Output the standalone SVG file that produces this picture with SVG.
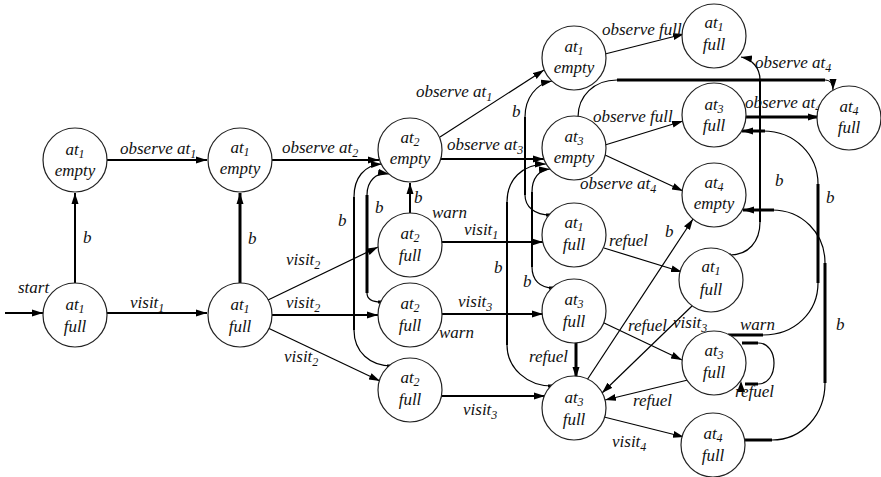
<svg xmlns="http://www.w3.org/2000/svg" width="881" height="477" viewBox="0 0 881 477">
<defs>
<marker id="ah" markerUnits="userSpaceOnUse" markerWidth="12" markerHeight="9" refX="11" refY="4" orient="auto"><path d="M0,0.5 L11,4 L0,7.5 z" fill="#000"/></marker>
<style>
text{font-family:"Liberation Serif",serif;font-style:italic;font-size:17px;fill:#111}
.sub{font-size:12px}
.n text{text-anchor:middle}
circle{fill:#fff;stroke:#222;stroke-width:1.2}
.c path{fill:none;stroke:#000}
.w1{stroke-width:1.2}
.w2{stroke-width:2}
.w3{stroke-width:3}
.a{marker-end:url(#ah)}
</style>
</defs>
<rect width="881" height="477" fill="#fff"/>
<g id="connectors" class="c">
<path class="w2 a" d="M5,313 H43"/>
<path class="w2 a" d="M75,283 V193"/>
<path class="w2 a" d="M107,160 H207"/>
<path class="w2 a" d="M107,313 H207"/>
<path class="w3 a" d="M240,283 V193"/>
<path class="w2 a" d="M272,160 H379"/>
<path class="w1 a" d="M268,300 L378,247"/>
<path class="w2 a" d="M272,315 H378"/>
<path class="w1 a" d="M268,328 L380,381"/>
<path class="w1 a" d="M440,137 L544,70"/>
<path class="w2 a" d="M441,159 H544"/>
<path class="w2 a" d="M410,213 V183"/>
<path class="w2 a" d="M442,242 H543"/>
<path class="w2 a" d="M442,314 H543"/>
<path class="w2 a" d="M442,396 H545"/>
<path class="w3" d="M387,366 H393"/>
<path class="w1" d="M392,366 C370,366 354,352 354,330"/>
<path class="w2" d="M354,330 V197"/>
<path class="w1 a" d="M354,197 C354,178 364,165 382,164"/>
<path class="w3" d="M378,302 H385"/>
<path class="w1" d="M381,302 C372,302 367,299 367,293"/>
<path class="w3" d="M367,293 V195"/>
<path class="w1 a" d="M367,195 C367,181 376,172 389,174"/>
<path class="w1" d="M578,117 C578,96 594,80 617,80"/>
<path class="w3" d="M617,80 H825"/>
<path class="w1 a" d="M825,80 C830,80 833,84 833,90"/>
<path class="w1 a" d="M605,145 L683,121"/>
<path class="w1 a" d="M605,155 L683,191"/>
<path class="w1 a" d="M605,54 L684,34"/>
<path class="w3" d="M546,215 H552"/>
<path class="w1" d="M550,215 C535,215 525,207 525,195"/>
<path class="w2" d="M525,195 V117"/>
<path class="w1 a" d="M525,117 C525,98 536,84 552,81"/>
<path class="w3" d="M549,288 H555"/>
<path class="w1" d="M553,288 C540,288 532,280 532,267"/>
<path class="w2" d="M532,267 V192"/>
<path class="w1 a" d="M532,192 C532,178 539,170 550,169"/>
<path class="w3" d="M548,386 H554"/>
<path class="w1" d="M552,386 C527,386 507,368 507,345"/>
<path class="w2" d="M507,345 V202"/>
<path class="w1 a" d="M507,202 C507,180 522,164 546,164"/>
<path class="w1 a" d="M604,248 L682,272"/>
<path class="w1 a" d="M602,322 L682,360"/>
<path class="w3 a" d="M576,343 V378"/>
<path class="w1 a" d="M587,380 L693,219"/>
<path class="w1 a" d="M692,306 L602,393"/>
<path class="w1 a" d="M692,379 L605,400"/>
<path class="w1 a" d="M604,417 L684,437"/>
<path class="w3 a" d="M743,117 H819"/>
<path class="w3" d="M722,255 H731"/>
<path class="w1" d="M730,255 C748,255 760,242 760,222"/>
<path class="w2" d="M760,222 V80"/>
<path class="w1 a" d="M760,80 C760,68 752,59 741,57"/>
<path class="w3" d="M728,335 H763"/>
<path class="w1" d="M763,335 C795,335 818,312 818,283"/>
<path class="w3" d="M818,283 V184"/>
<path class="w1" d="M818,184 C818,155 795,131 763,131"/>
<path class="w3 a" d="M765,131 H742"/>
<path class="w3" d="M745,440 H772"/>
<path class="w1" d="M772,440 C802,440 825,415 825,383"/>
<path class="w3" d="M825,383 V263"/>
<path class="w1" d="M825,263 C825,233 802,210 772,210"/>
<path class="w3 a" d="M774,210 H743"/>
<path class="w3" d="M742,343 H758"/>
<path class="w1" d="M758,343 C768,343 774,352 774,363 C774,375 768,384 758,384"/>
<path class="w3" d="M758,384 H745"/>
<polygon points="741,381 737,392 745,392" fill="#000"/>
</g>
<g id="labels">
<text x="18" y="293">start</text>
<text x="83" y="243">b</text>
<text x="120" y="154">observe at<tspan class="sub" dy="4">1</tspan></text>
<text x="130" y="308">visit<tspan class="sub" dy="4">1</tspan></text>
<text x="248" y="244">b</text>
<text x="282" y="153">observe at<tspan class="sub" dy="4">2</tspan></text>
<text x="286" y="265">visit<tspan class="sub" dy="4">2</tspan></text>
<text x="286" y="308">visit<tspan class="sub" dy="4">2</tspan></text>
<text x="284" y="362">visit<tspan class="sub" dy="4">2</tspan></text>
<text x="338" y="226">b</text>
<text x="375" y="213">b</text>
<text x="414" y="203">b</text>
<text x="432" y="218">warn</text>
<text x="416" y="97">observe at<tspan class="sub" dy="4">1</tspan></text>
<text x="447" y="150">observe at<tspan class="sub" dy="4">3</tspan></text>
<text x="464" y="235">visit<tspan class="sub" dy="4">1</tspan></text>
<text x="458" y="307">visit<tspan class="sub" dy="4">3</tspan></text>
<text x="439" y="338">warn</text>
<text x="463" y="415">visit<tspan class="sub" dy="4">3</tspan></text>
<text x="512" y="117">b</text>
<text x="494" y="273">b</text>
<text x="523" y="287">b</text>
<text x="602" y="35">observe full</text>
<text x="593" y="122">observe full</text>
<text x="580" y="189">observe at<tspan class="sub" dy="4">4</tspan></text>
<text x="755" y="68">observe at<tspan class="sub" dy="4">4</tspan></text>
<text x="745" y="108">observe at<tspan class="sub" dy="4">4</tspan></text>
<text x="775" y="186">b</text>
<text x="826" y="203">b</text>
<text x="836" y="330">b</text>
<text x="740" y="330">warn</text>
<text x="609" y="246">refuel</text>
<text x="628" y="331">refuel</text>
<text x="673" y="328">visit<tspan class="sub" dy="4">3</tspan></text>
<text x="529" y="362">refuel</text>
<text x="665" y="237">b</text>
<text x="633" y="406">refuel</text>
<text x="612" y="447">visit<tspan class="sub" dy="4">4</tspan></text>
<text x="735" y="397">refuel</text>
</g>
<g id="n1" class="n"><circle cx="75" cy="160" r="32"/><text x="75" y="155">at<tspan class="sub" dy="3">1</tspan></text><text x="75" y="176">empty</text></g>
<g id="n2" class="n"><circle cx="75" cy="315" r="32"/><text x="75" y="310">at<tspan class="sub" dy="3">1</tspan></text><text x="75" y="332">full</text></g>
<g id="n3" class="n"><circle cx="240" cy="160" r="32"/><text x="240" y="153">at<tspan class="sub" dy="3">1</tspan></text><text x="240" y="174">empty</text></g>
<g id="n4" class="n"><circle cx="240" cy="315" r="32"/><text x="240" y="310">at<tspan class="sub" dy="3">1</tspan></text><text x="240" y="332">full</text></g>
<g id="n5" class="n"><circle cx="410" cy="150" r="32"/><text x="410" y="143">at<tspan class="sub" dy="3">2</tspan></text><text x="410" y="164">empty</text></g>
<g id="n6" class="n"><circle cx="410" cy="245" r="32"/><text x="410" y="239">at<tspan class="sub" dy="3">2</tspan></text><text x="410" y="261">full</text></g>
<g id="n7" class="n"><circle cx="410" cy="315" r="32"/><text x="410" y="309">at<tspan class="sub" dy="3">2</tspan></text><text x="410" y="331">full</text></g>
<g id="n8" class="n"><circle cx="410" cy="390" r="32"/><text x="410" y="383">at<tspan class="sub" dy="3">2</tspan></text><text x="410" y="405">full</text></g>
<g id="n9" class="n"><circle cx="574" cy="58" r="32"/><text x="574" y="52">at<tspan class="sub" dy="3">1</tspan></text><text x="574" y="73">empty</text></g>
<g id="n10" class="n"><circle cx="574" cy="148" r="32"/><text x="574" y="142">at<tspan class="sub" dy="3">3</tspan></text><text x="574" y="163">empty</text></g>
<g id="n11" class="n"><circle cx="574" cy="235" r="32"/><text x="574" y="228">at<tspan class="sub" dy="3">1</tspan></text><text x="574" y="250">full</text></g>
<g id="n12" class="n"><circle cx="574" cy="311" r="32"/><text x="574" y="305">at<tspan class="sub" dy="3">3</tspan></text><text x="574" y="327">full</text></g>
<g id="n13" class="n"><circle cx="574" cy="408" r="32"/><text x="574" y="403">at<tspan class="sub" dy="3">3</tspan></text><text x="574" y="425">full</text></g>
<g id="n14" class="n"><circle cx="714" cy="36" r="32"/><text x="714" y="28">at<tspan class="sub" dy="3">1</tspan></text><text x="714" y="50">full</text></g>
<g id="n15" class="n"><circle cx="714" cy="115" r="32"/><text x="714" y="110">at<tspan class="sub" dy="3">3</tspan></text><text x="714" y="131">full</text></g>
<g id="n16" class="n"><circle cx="849" cy="118" r="32"/><text x="849" y="112">at<tspan class="sub" dy="3">4</tspan></text><text x="849" y="133">full</text></g>
<g id="n17" class="n"><circle cx="714" cy="195" r="32"/><text x="714" y="188">at<tspan class="sub" dy="3">4</tspan></text><text x="714" y="209">empty</text></g>
<g id="n18" class="n"><circle cx="711" cy="280" r="32"/><text x="711" y="272">at<tspan class="sub" dy="3">1</tspan></text><text x="711" y="295">full</text></g>
<g id="n19" class="n"><circle cx="714" cy="363" r="32"/><text x="714" y="356">at<tspan class="sub" dy="3">3</tspan></text><text x="714" y="378">full</text></g>
<g id="n20" class="n"><circle cx="713" cy="445" r="32"/><text x="713" y="439">at<tspan class="sub" dy="3">4</tspan></text><text x="713" y="461">full</text></g>
</svg>
